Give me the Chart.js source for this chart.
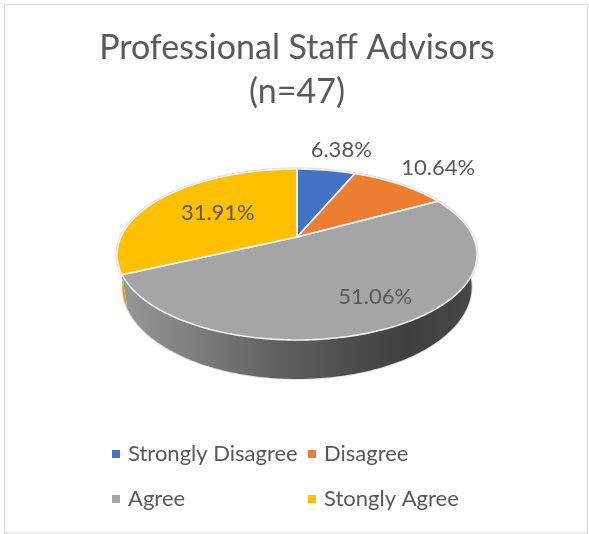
<!DOCTYPE html>
<html><head><meta charset="utf-8">
<style>html,body{margin:0;padding:0;background:#fff}canvas{display:block}</style>
<script src="https://cdn.jsdelivr.net/npm/chart.js@4"></script>
</head><body><canvas id="c" width="589" height="534"></canvas>
<script>
const titleLines = ['Professional Staff Advisors', '(n=47)'];
const categories = ['Strongly Disagree', 'Disagree', 'Agree', 'Stongly Agree'];
const percentages = [6.38, 10.64, 51.06, 31.91];
const sliceColors = ['#4472C4', '#ED7D31', '#A5A5A5', '#FFC000'];

const INK = '#595959', FONT = 'Lato, Carlito, sans-serif';
const VIEW = { rx: 176.2, ry: 81.9, persp: -0.2047, depth: 31, taper: 0.03 };
const labelNudges = [[15, -20], [38.5, -16], [-19, -30], [54.6, 16]];
const legendCells = [[112, 454], [308, 454], [112, 499], [308, 499]];

function projector(arc) {
  return (angle, frac = 1, drop = 0) => {
    const u = Math.cos(angle) * frac, v = Math.sin(angle) * frac;
    const w = 1 + VIEW.persp * v;
    return [arc.x + (1 - VIEW.taper * drop) * VIEW.rx * u / w,
            arc.y + VIEW.ry * v / w + drop * VIEW.depth / w];
  };
}
function rimPath(ctx, P, a0, a1, drop, move) {
  const n = Math.max(2, Math.ceil(Math.abs(a1 - a0) * 60));
  for (let i = 0; i <= n; i++) {
    const p = P(a0 + (a1 - a0) * i / n, 1, drop);
    if (i === 0 && move) ctx.moveTo(p[0], p[1]); else ctx.lineTo(p[0], p[1]);
  }
}
const pie3d = {
  id: 'pie3d',
  beforeDraw(chart) {
    const ctx = chart.ctx;
    ctx.save();
    ctx.fillStyle = '#fff';
    ctx.fillRect(0, 0, chart.width, chart.height);
    ctx.strokeStyle = '#d9d9d9';
    ctx.lineWidth = 1;
    ctx.strokeRect(4.5, 4.5, 583, 528.5);
    ctx.restore();
  },
  beforeDatasetDraw(chart) {
    const ctx = chart.ctx, arcs = chart.getDatasetMeta(0).data;
    const P = projector(arcs[0]);
    ctx.save();
    ctx.beginPath();
    rimPath(ctx, P, 0, Math.PI * 2, 1, true);
    ctx.closePath();
    ctx.strokeStyle = '#dcdcdc'; ctx.lineWidth = 2; ctx.stroke();
    ctx.beginPath();
    rimPath(ctx, P, 0, Math.PI * 2, 0, true);
    ctx.closePath();
    ctx.strokeStyle = '#dcdcdc'; ctx.lineWidth = 3; ctx.stroke();
    arcs.forEach((arc, i) => {
      ctx.beginPath();
      rimPath(ctx, P, arc.startAngle, arc.endAngle, 0, true);
      rimPath(ctx, P, arc.endAngle, arc.startAngle, 1, false);
      ctx.closePath();
      if (i === 2) {
        const g = ctx.createLinearGradient(122, 0, 477, 0);
        g.addColorStop(0, '#979797');
        g.addColorStop(0.45, '#5f5f5f');
        g.addColorStop(0.8, '#3f3f3f');
        g.addColorStop(1, '#474747');
        ctx.fillStyle = g;
      } else {
        ctx.fillStyle = i === 3 ? '#dba500' : sliceColors[i];
      }
      ctx.fill();
    });
    arcs.forEach((arc, i) => {
      ctx.beginPath();
      const c = P(0, 0);
      ctx.moveTo(c[0], c[1]);
      rimPath(ctx, P, arc.startAngle, arc.endAngle, 0, false);
      ctx.closePath();
      ctx.fillStyle = sliceColors[i];
      ctx.fill();
    });
    arcs.forEach(arc => {
      ctx.beginPath();
      const c = P(0, 0);
      ctx.moveTo(c[0], c[1]);
      rimPath(ctx, P, arc.startAngle, arc.endAngle, 0, false);
      ctx.closePath();
      ctx.strokeStyle = '#f2f2f2'; ctx.lineWidth = 1.6; ctx.lineJoin = 'round';
      ctx.stroke();
    });
    ctx.restore();
    return false;
  },
  afterDraw(chart) {
    const ctx = chart.ctx, arcs = chart.getDatasetMeta(0).data;
    const P = projector(arcs[0]);
    ctx.save();
    ctx.fillStyle = INK;
    ctx.font = '22px ' + FONT;
    ctx.textAlign = 'center';
    ctx.textBaseline = 'middle';
    arcs.forEach((arc, i) => {
      const p = P((arc.startAngle + arc.endAngle) / 2);
      const value = chart.data.datasets[0].data[i];
      ctx.fillText(value.toFixed(2) + '%', p[0] + labelNudges[i][0], p[1] + labelNudges[i][1]);
    });
    ctx.textAlign = 'left';
    chart.data.labels.forEach((text, i) => {
      const [x, y] = legendCells[i];
      ctx.fillStyle = sliceColors[i];
      ctx.fillRect(x, y - 4, 8, 8);
      ctx.fillStyle = INK;
      ctx.font = '22px ' + FONT;
      ctx.fillText(text, x + 16, y);
    });
    ctx.restore();
  }
};
new Chart(document.getElementById('c'), {
  type: 'pie',
  data: {
    labels: categories,
    datasets: [{ data: percentages, backgroundColor: sliceColors, borderWidth: 0 }]
  },
  plugins: [pie3d],
  options: {
    responsive: false,
    animation: false,
    layout: { padding: { left: 5, right: 0, top: 0, bottom: 174 } },
    plugins: {
      legend: { display: false },
      tooltip: { enabled: false },
      title: {
        display: true,
        text: titleLines,
        color: INK,
        font: { family: FONT, size: 34, weight: 'normal', lineHeight: 1.294 },
        padding: { top: 26, bottom: 0 }
      }
    }
  }
});
</script></body></html>
